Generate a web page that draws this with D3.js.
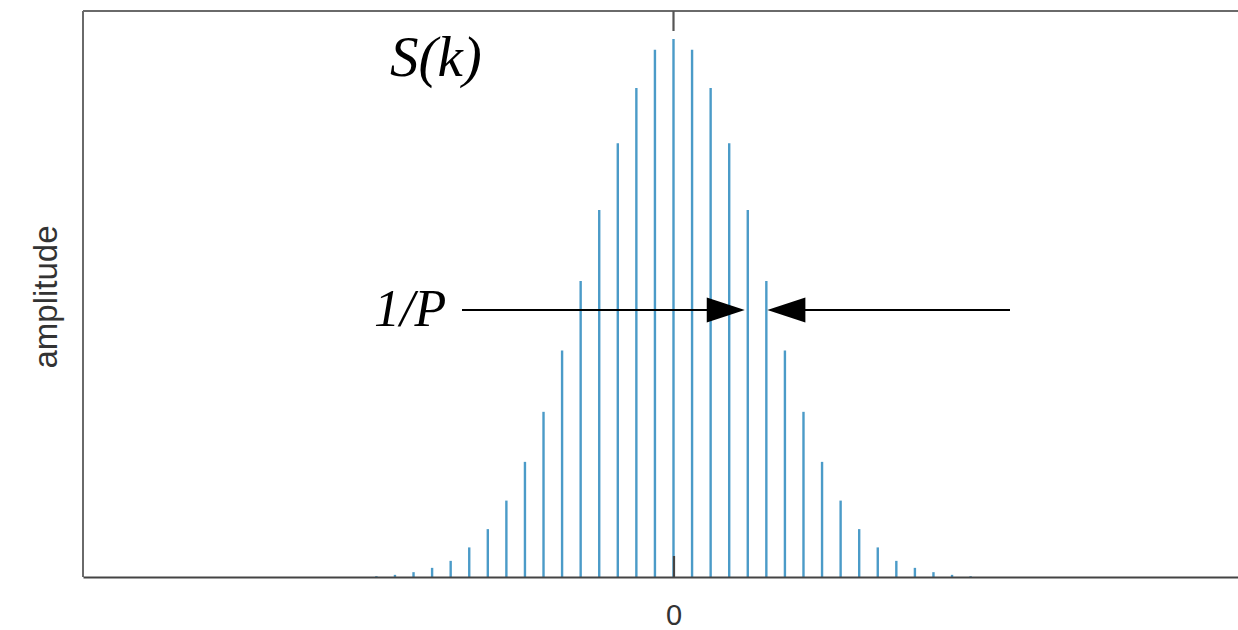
<!DOCTYPE html>
<html>
<head>
<meta charset="utf-8">
<script src="https://cdn.jsdelivr.net/npm/d3@7/dist/d3.min.js"></script>
<style>
  html, body { margin: 0; padding: 0; background: #fff; overflow: hidden; }
  svg { display: block; }
</style>
</head>
<body>
<svg id="chart" width="1238" height="630"></svg>
<script>
// Harmonic index k of the line spectrum S(k)
const harmonics = [-16,-15,-14,-13,-12,-11,-10,-9,-8,-7,-6,-5,-4,-3,-2,-1,0,1,2,3,4,5,6,7,8,9,10,11,12,13,14,15,16];
// Relative amplitude of each harmonic (peak = 1)
const amplitudes = [0.0015,0.004,0.009,0.017,0.030,0.055,0.089,0.142,0.214,0.307,0.421,0.550,0.682,0.806,0.909,0.980,1.000,
                    0.980,0.909,0.806,0.682,0.550,0.421,0.307,0.214,0.142,0.089,0.055,0.030,0.017,0.009,0.004,0.0015];
const xTickValues = [0];
const xTickLabels = ["0"];

const svg = d3.select("#chart");
const margin = { left: 83, top: 11, right: 1264, bottom: 577 };

const x = d3.scaleLinear().domain([-31.8, 31.8]).range([margin.left, margin.right]);
const y = d3.scaleLinear().domain([0, 1.052]).range([margin.bottom, margin.top]);

// Frame (right side runs past the viewport)
svg.append("line")
  .attr("x1", margin.left).attr("x2", margin.right)
  .attr("y1", margin.top).attr("y2", margin.top)
  .attr("stroke", "#6a6a6a").attr("stroke-width", 2);
svg.append("line")
  .attr("x1", margin.left).attr("x2", margin.left)
  .attr("y1", margin.top).attr("y2", margin.bottom)
  .attr("stroke", "#6a6a6a").attr("stroke-width", 2);

// Stems
svg.append("g").selectAll("line")
  .data(harmonics)
  .join("line")
  .attr("x1", d => x(d)).attr("x2", d => x(d))
  .attr("y1", y(0))
  .attr("y2", (d, i) => y(amplitudes[i]))
  .attr("stroke", "#4b9bc8")
  .attr("stroke-width", 2.4);

// Bottom axis with inward tick at zero
const xAxis = d3.axisBottom(x)
  .tickValues(xTickValues)
  .tickFormat((d, i) => xTickLabels[i])
  .tickSize(0)
  .tickPadding(27);
const gx = svg.append("g")
  .attr("transform", `translate(0,${margin.bottom})`)
  .call(xAxis);
gx.select(".domain").attr("stroke", "#444").attr("stroke-width", 2.2);
gx.selectAll(".tick text")
  .attr("font-family", "Liberation Sans, Arial, sans-serif")
  .attr("font-size", 29)
  .attr("fill", "#333");
gx.selectAll(".tick").append("line")
  .attr("y1", 0).attr("y2", -21)
  .attr("stroke", "#444").attr("stroke-width", 2.2);

// Top inward tick at zero
svg.append("g").selectAll("line")
  .data(xTickValues)
  .join("line")
  .attr("x1", d => x(d)).attr("x2", d => x(d))
  .attr("y1", margin.top).attr("y2", margin.top + 20)
  .attr("stroke", "#555").attr("stroke-width", 2.2);

// Y axis title
svg.append("text")
  .attr("transform", `translate(57,297) rotate(-90)`)
  .attr("text-anchor", "middle")
  .attr("font-family", "Liberation Sans, Arial, sans-serif")
  .attr("font-size", 33)
  .attr("fill", "#333")
  .text("amplitude");

// Spectrum label
svg.append("text")
  .attr("x", 390).attr("y", 76)
  .attr("font-family", "Liberation Serif, Times New Roman, serif")
  .attr("font-style", "italic")
  .attr("font-size", 57)
  .attr("fill", "#000")
  .text("S(k)");

// Spacing annotation between adjacent harmonics
svg.append("text")
  .attr("x", 374).attr("y", 326)
  .attr("font-family", "Liberation Serif, Times New Roman, serif")
  .attr("font-style", "italic")
  .attr("font-size", 52)
  .attr("fill", "#000")
  .text("1/P");

const aY = 310;
const leftTip = x(4) - 3, rightTip = x(5) + 1;
const headLen = 38, headHalf = 12.5;
svg.append("line")
  .attr("x1", 462).attr("x2", leftTip - headLen + 2)
  .attr("y1", aY).attr("y2", aY)
  .attr("stroke", "#000").attr("stroke-width", 2);
svg.append("path")
  .attr("d", `M${leftTip},${aY} L${leftTip - headLen},${aY - headHalf} L${leftTip - headLen},${aY + headHalf} Z`)
  .attr("fill", "#000");
svg.append("line")
  .attr("x1", rightTip + headLen - 2).attr("x2", 1010)
  .attr("y1", aY).attr("y2", aY)
  .attr("stroke", "#000").attr("stroke-width", 2);
svg.append("path")
  .attr("d", `M${rightTip},${aY} L${rightTip + headLen},${aY - headHalf} L${rightTip + headLen},${aY + headHalf} Z`)
  .attr("fill", "#000");
</script>
</body>
</html>
